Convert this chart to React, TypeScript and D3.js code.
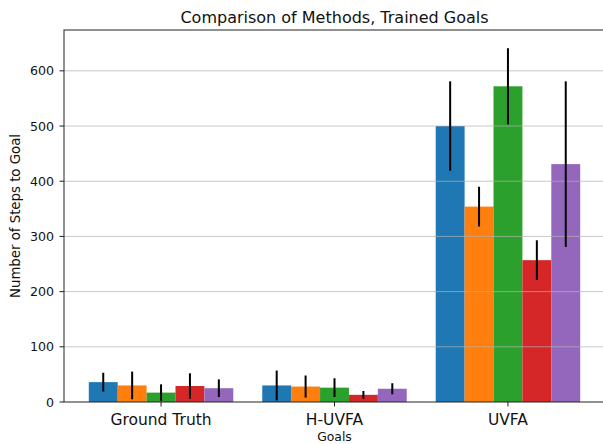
import React from 'react';
import * as d3 from 'd3';

// chart data
const goals = ['Ground Truth', 'H-UVFA', 'UVFA'];
const methods = ['m1', 'm2', 'm3', 'm4', 'm5'];
const colors = ['#1f77b4', '#ff7f0e', '#2ca02c', '#d62728', '#9467bd'];
// mean steps per goal set, one array per method
const means = [
    [36, 30, 500],
    [30, 28, 354],
    [17, 26, 572],
    [29, 13, 257],
    [25, 24, 431],
];
const errors = [
    [17, 27, 81],
    [25, 20, 36],
    [15, 17, 69],
    [23, 7, 36],
    [16, 10, 150],
];
const yTicks = [0, 100, 200, 300, 400, 500, 600];

const W = 603;
const H = 444;
const margin = { top: 30, right: -2, bottom: 42, left: 64 };

const App: React.FC = () => {
    const innerRight = W - margin.right;
    const innerBottom = H - margin.bottom;

    const x = d3.scaleBand<string>()
        .domain(goals)
        .range([margin.left, innerRight])
        .paddingInner(0.167)
        .paddingOuter(0.143);

    const xm = d3.scaleBand<string>()
        .domain(methods)
        .range([0, x.bandwidth()]);

    const y = d3.scaleLinear()
        .domain([0, 674])
        .range([innerBottom, margin.top]);

    const font = 'DejaVu Sans, sans-serif';

    return (
        <svg width={W} height={H} style={{ position: 'absolute', left: 0, top: 0, background: '#fff' }} fontFamily={font}>
            {/* bars */}
            {methods.map((m, mi) => goals.map((g, gi) => (
                <rect key={m + g}
                    x={(x(g) as number) + (xm(m) as number)}
                    y={y(means[mi][gi])}
                    width={xm.bandwidth()}
                    height={y(0) - y(means[mi][gi])}
                    fill={colors[mi]} />
            )))}
            {/* grid over bars */}
            {yTicks.slice(1).map(t => (
                <line key={'g' + t} x1={margin.left} x2={innerRight} y1={y(t)} y2={y(t)}
                    stroke="#b0b0b0" strokeOpacity={0.7} strokeWidth={1} />
            ))}
            {/* error bars */}
            {methods.map((m, mi) => goals.map((g, gi) => {
                const cx = (x(g) as number) + (xm(m) as number) + xm.bandwidth() / 2;
                return (
                    <line key={'e' + m + g} x1={cx} x2={cx}
                        y1={y(means[mi][gi] - errors[mi][gi])}
                        y2={y(means[mi][gi] + errors[mi][gi])}
                        stroke="#000" strokeWidth={2} />
                );
            }))}
            {/* spines */}
            <rect x={margin.left} y={margin.top} width={innerRight - margin.left} height={innerBottom - margin.top}
                fill="none" stroke="#222" strokeWidth={1} />
            {/* y axis */}
            {yTicks.map(t => (
                <g key={'y' + t}>
                    <line x1={margin.left - 4.5} x2={margin.left} y1={y(t)} y2={y(t)} stroke="#222" />
                    <text x={margin.left - 10} y={y(t)} dy="0.36em" textAnchor="end" fontSize={12.6} fill="#111">{t}</text>
                </g>
            ))}
            {/* x axis */}
            {goals.map(g => {
                const cx = (x(g) as number) + x.bandwidth() / 2;
                return (
                    <g key={'x' + g}>
                        <line x1={cx} x2={cx} y1={innerBottom} y2={innerBottom + 4.5} stroke="#222" />
                        <text x={cx} y={424.5} textAnchor="middle" fontSize={15.5} fill="#111">{g}</text>
                    </g>
                );
            })}
            <text x={(margin.left + innerRight) / 2} y={441} textAnchor="middle" fontSize={12.4} fill="#111">Goals</text>
            <text transform={`translate(20,${(margin.top + innerBottom) / 2}) rotate(-90)`} textAnchor="middle"
                fontSize={13.3} fill="#111">Number of Steps to Goal</text>
            <text x={(margin.left + innerRight) / 2} y={22.7} textAnchor="middle" fontSize={16} fill="#111">
                Comparison of Methods, Trained Goals
            </text>
        </svg>
    );
};

export default App;
